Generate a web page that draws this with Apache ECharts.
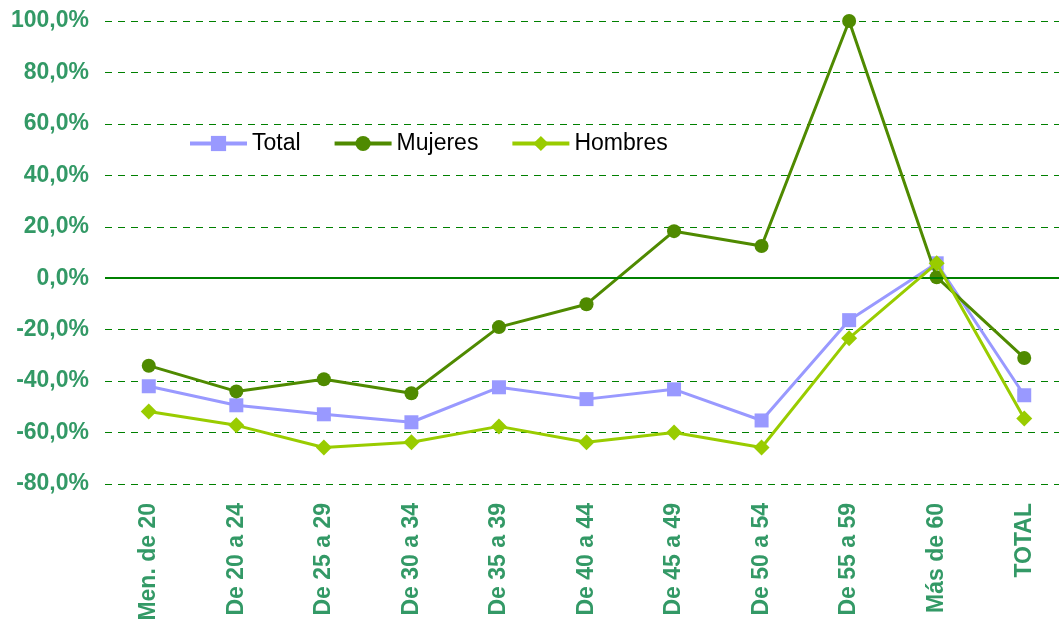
<!DOCTYPE html>
<html>
<head>
<meta charset="utf-8">
<script src="https://cdn.jsdelivr.net/npm/echarts@6/dist/echarts.min.js"></script>
<style>
  html, body { margin: 0; padding: 0; background: #fff; overflow: hidden; }
  /* a bit wider than the window: the last band is cut off on the right, like the original */
  #chart { width: 1068px; height: 624px; }
</style>
</head>
<body>
<div id="chart"></div>
<script>
// age groups on the x axis
var categories = ['Men. de 20', 'De 20 a 24', 'De 25 a 29', 'De 30 a 34', 'De 35 a 39',
  'De 40 a 44', 'De 45 a 49', 'De 50 a 54', 'De 55 a 59', 'Más de 60', 'TOTAL'];

// % variation
var total   = [-42, -49.4, -52.9, -56, -42.4, -47, -43.2, -55.3, -16.3, 5.8, -45.5];
var mujeres = [-34, -44, -39.3, -44.7, -19, -10.1, 18.3, 12.5, 100, 0.4, -31];
var hombres = [-51.8, -57.2, -65.8, -63.8, -57.6, -63.8, -60, -65.8, -23.3, 5.8, -54.5];

var yTicks = { min: -80, max: 100, step: 20 };

var labelGreen = '#339966';
var font = 'Liberation Sans, Arial, sans-serif';

var chart = echarts.init(document.getElementById('chart'));

chart.setOption({
  animation: false,
  backgroundColor: '#fff',
  textStyle: { fontFamily: font },
  grid: { left: 105, right: 0, top: 21, bottom: 140 },
  legend: {
    left: 183, top: 127,
    itemWidth: 57, itemHeight: 19, itemGap: 32,
    lineStyle: { width: 4 },
    textStyle: { fontFamily: font, fontSize: 23, color: '#000' },
    data: ['Total', 'Mujeres', 'Hombres']
  },
  xAxis: {
    type: 'category',
    data: categories,
    boundaryGap: true,
    axisLine: { show: false },
    axisTick: { show: false },
    axisLabel: {
      rotate: 90, margin: 19, interval: 0,
      color: labelGreen, fontWeight: 'bold', fontSize: 23, fontFamily: font
    }
  },
  yAxis: {
    type: 'value',
    min: yTicks.min, max: yTicks.max, interval: yTicks.step,
    axisLine: { show: false },
    axisTick: { show: false },
    axisLabel: {
      margin: 16, color: labelGreen, fontWeight: 'bold', fontSize: 23, fontFamily: font,
      formatter: function (v) { return v.toFixed(1).replace('.', ',') + '%'; }
    },
    splitLine: { lineStyle: { color: '#008000', width: 1, type: [7, 6] } }
  },
  series: [
    {
      name: 'Total', type: 'line', data: total,
      symbol: 'rect', symbolSize: 14,
      lineStyle: { color: '#9999FF', width: 3 },
      itemStyle: { color: '#9999FF' },
      z: 3,
      markLine: {
        silent: true, symbol: 'none', label: { show: false },
        lineStyle: { color: '#008000', width: 2, type: 'solid' },
        data: [{ yAxis: 0 }]
      }
    },
    {
      name: 'Mujeres', type: 'line', data: mujeres,
      symbol: 'circle', symbolSize: 14,
      lineStyle: { color: '#4F8A00', width: 3 },
      itemStyle: { color: '#4F8A00' },
      z: 4
    },
    {
      name: 'Hombres', type: 'line', data: hombres,
      symbol: 'diamond', symbolSize: 16,
      lineStyle: { color: '#99CC00', width: 3 },
      itemStyle: { color: '#99CC00' },
      z: 5
    }
  ]
});
</script>
</body>
</html>
